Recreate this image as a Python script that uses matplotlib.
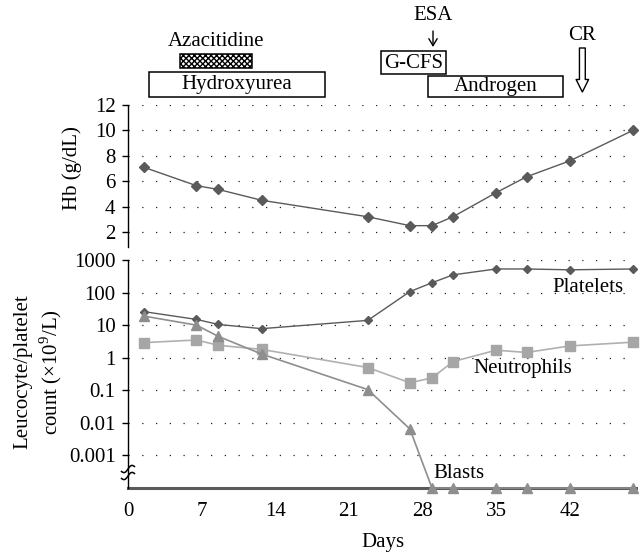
import numpy as np
import matplotlib
matplotlib.use("Agg")
import matplotlib.pyplot as plt
from matplotlib import transforms
from matplotlib.patches import Rectangle

# ---------------- data ----------------
days = [1.5, 6.5, 8.6, 12.7, 22.8, 26.8, 28.9, 30.9, 35.0, 37.9, 42.0, 48.0]
hb = [7.1, 5.65, 5.35, 4.5, 3.2, 2.5, 2.5, 3.2, 5.1, 6.35, 7.6, 10.0]
platelets = [26, 15, 10.5, 7.8, 14, 107, 200, 350, 530, 530, 500, 530]
neutrophils = [2.9, 3.5, 2.4, 1.8, 0.5, 0.17, 0.24, 0.76, 1.7, 1.45, 2.3, 3.0]
blasts = [19, 10, 4.5, 1.3, 0.105, 0.0065, 0, 0, 0, 0, 0, 0]

x_ticks = [0, 7, 14, 21, 28, 35, 42]
hb_ticks = [2, 4, 6, 8, 10, 12]
count_ticks = [1000, 100, 10, 1, 0.1, 0.01, 0.001]
count_tick_labels = ["1000", "100", "10", "1", "0.1", "0.01", "0.001"]

# treatments (days)
hydroxyurea = (2.0, 18.7)
azacitidine = (4.9, 11.8)
gcsf = (24.1, 30.2)
androgen = (28.5, 41.4)
esa_day = 29.0
cr_day = 43.2

FLOOR = 1e-4  # zero values drawn on the broken-axis baseline

# ---------------- style ----------------
plt.rcParams["font.family"] = ["Liberation Serif", "DejaVu Serif"]
plt.rcParams["mathtext.fontset"] = "custom"
plt.rcParams["mathtext.rm"] = "Liberation Serif"
plt.rcParams["hatch.linewidth"] = 1.0
FS = 15

dark = "#5a5a5a"
light = "#a6a6a6"
mid = "#8e8e8e"
dots = (0, (1, 10))

fig = plt.figure(figsize=(6.4, 5.56), dpi=100)
W, H = 640, 556
left = 128 / W
width = 508 / W
ax1 = fig.add_axes([left, 1 - 247 / H, width, 142 / H])
ax2 = fig.add_axes([left, 1 - 488 / H, width, 228 / H])

# ---- top: Hb ----
ax1.plot(days, hb, color=dark, lw=1, marker="D", ms=5, clip_on=False, zorder=3)
ax1.set_xlim(0, 48.3)
ax1.set_ylim(0.82, 12)
ax1.set_yticks(hb_ticks)
ax1.set_xticks([])
for s in ["top", "right", "bottom"]:
    ax1.spines[s].set_visible(False)
ax1.spines["left"].set_linewidth(1)
ax1.yaxis.grid(True, linestyle=dots, color="#222222", lw=0.9)
ax1.tick_params(axis="y", direction="out", length=4, width=1, pad=5, labelsize=FS)

# ---- bottom: counts ----
ax2.set_yscale("log")
ax2.plot(days, platelets, color=dark, lw=1, marker="D", ms=3.8, clip_on=False, zorder=5)
ax2.plot(days, neutrophils, color="#b0b0b0", lw=1.2, marker="s", ms=7.5,
         mfc=light, mec=light, clip_on=False, zorder=4)
blasts_plot = np.where(np.array(blasts) == 0, FLOOR, blasts)
ax2.plot(days, blasts_plot, color=mid, lw=1.2, marker="^", ms=7,
         clip_on=False, zorder=6)
ax2.set_xlim(0, 48.3)
ax2.set_ylim(FLOOR, 1000)
ax2.set_yticks(count_ticks)
ax2.set_yticklabels(count_tick_labels)
ax2.yaxis.set_minor_locator(matplotlib.ticker.NullLocator())
ax2.set_xticks(x_ticks)
for s in ["top", "right"]:
    ax2.spines[s].set_visible(False)
ax2.spines["left"].set_linewidth(1)
ax2.spines["bottom"].set_linewidth(2.2)
ax2.spines["bottom"].set_color(dark)
ax2.spines["bottom"].set_zorder(1)
ax2.yaxis.grid(True, linestyle=dots, color="#222222", lw=0.9)
ax2.tick_params(axis="y", direction="out", length=4, width=1, pad=5, labelsize=FS)
ax2.tick_params(axis="x", length=0, pad=10, labelsize=FS)

# ---- overlay in pixel coordinates ----
ov = fig.add_axes([0, 0, 1, 1], zorder=10)
ov.set_xlim(0, W)
ov.set_ylim(H, 0)
ov.axis("off")
blend = transforms.blended_transform_factory(ax2.transData, ov.transData)

ov.text(383, 542, "Days", ha="center", va="center", fontsize=FS)
ov.text(72, 168, "Hb (g/dL)", ha="center", va="center", rotation=90, fontsize=FS)
ov.text(39, 372, "Leucocyte/platelet\ncount (×10$^{9}$/L)", ha="center", va="center",
        rotation=90, fontsize=FS, linespacing=1.25, multialignment="center")

ov.text(588, 288, "Platelets", ha="center", va="center", fontsize=FS)
ov.text(523, 368, "Neutrophils", ha="center", va="center", fontsize=FS)
ov.text(459, 473, "Blasts", ha="center", va="center", fontsize=FS)

# axis break mark
for y0 in (469, 476):
    t = np.linspace(-1, 1, 40)
    xs = 128 + 6.5 * t
    ys = y0 - 2.5 * t - 2.2 * np.sin(np.pi * t)
    ov.plot(xs, ys, color="black", lw=1.1, clip_on=False)

# treatment boxes
def box(span, ytop, ybot, label=None, hatch=None):
    r = Rectangle((span[0], ytop), span[1] - span[0], ybot - ytop, transform=blend,
                  facecolor="white", edgecolor="black", lw=1.1, hatch=hatch,
                  clip_on=False)
    ov.add_patch(r)
    if label:
        ov.text((span[0] + span[1]) / 2, (ytop + ybot) / 2 + 0.5, label, transform=blend,
                ha="center", va="center", fontsize=FS)

box(azacitidine, 54, 68, hatch="xxxxxx")
ov.text(sum(azacitidine) / 2, 41, "Azacitidine", transform=blend, ha="center",
        va="center", fontsize=FS)
box(hydroxyurea, 72, 97, "Hydroxyurea")
box(gcsf, 51, 74, "G-CFS")
box(androgen, 76, 97, "Androgen")

ov.text(esa_day, 16, "ESA", transform=blend, ha="center", va="center", fontsize=FS)
ov.annotate("", xy=(esa_day, 47), xytext=(esa_day, 31), xycoords=blend, textcoords=blend,
            arrowprops=dict(arrowstyle="->,head_length=0.5,head_width=0.3", lw=1,
                            color="black", shrinkA=0, shrinkB=0))

ov.text(cr_day, 35, "CR", transform=blend, ha="center", va="center", fontsize=FS)
ov.annotate("", xy=(cr_day, 92), xytext=(cr_day, 48), xycoords=blend, textcoords=blend,
            arrowprops=dict(arrowstyle="simple,head_length=0.9,head_width=0.9,tail_width=0.42",
                            fc="white", ec="black", lw=1, shrinkA=0, shrinkB=0))

fig.savefig("out.png", dpi=100)
